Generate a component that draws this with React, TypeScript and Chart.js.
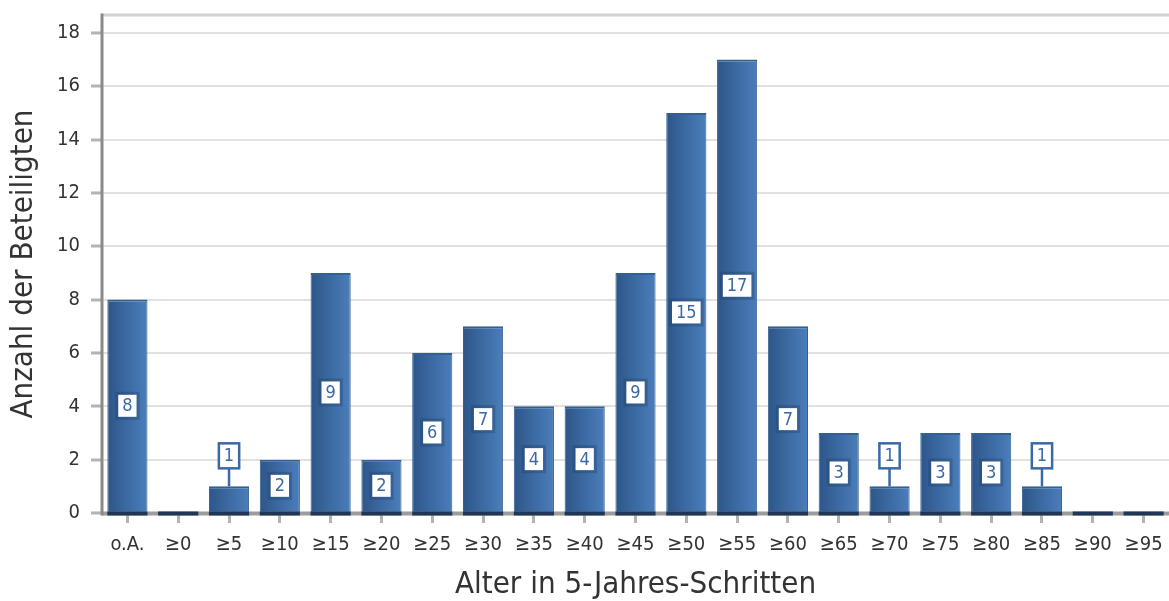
import React, { useEffect, useRef } from 'react';
import { Chart, registerables } from 'chart.js';

Chart.register(...registerables);

const CATEGORIES = ['o.A.', '≥0', '≥5', '≥10', '≥15', '≥20', '≥25', '≥30', '≥35', '≥40', '≥45', '≥50', '≥55', '≥60', '≥65', '≥70', '≥75', '≥80', '≥85', '≥90', '≥95'];
const COUNTS = [8, 0, 1, 2, 9, 2, 6, 7, 4, 4, 9, 15, 17, 7, 3, 1, 3, 3, 1, 0, 0];
const Y_TICKS = [0, 2, 4, 6, 8, 10, 12, 14, 16, 18];
const Y_MAX = 18.67;
const X_TITLE = 'Alter in 5-Jahres-Schritten';
const Y_TITLE = 'Anzahl der Beteiligten';

const FONT = '"DejaVu Sans Condensed", "DejaVu Sans", sans-serif';
const LABEL_BLUE = '#3b69a6';
const BAR_PCT = 0.79;

const decorPlugin = {
  id: 'decor',
  afterDatasetsDraw(chart: any) {
    const { ctx, chartArea, scales } = chart;
    const y = scales.y;
    const meta = chart.getDatasetMeta(0);
    const y0 = y.getPixelForValue(0);
    ctx.save();
    ctx.fillStyle = '#d2d2d2';
    ctx.fillRect(chartArea.left, chartArea.top - 1.5, chartArea.right - chartArea.left, 3);
    ctx.fillStyle = '#9c9c9c';
    ctx.fillRect(chartArea.left, y0 - 1.5, chartArea.right - chartArea.left, 4);
    meta.data.forEach((bar: any) => {
      const p = bar.getProps(['x', 'width'], true);
      ctx.fillStyle = '#1f3656';
      ctx.fillRect(p.x - p.width / 2, y0 - 1.5, p.width, 4);
    });
    ctx.fillStyle = '#8a8a8a';
    ctx.fillRect(chartArea.left - 1.5, chartArea.top - 1.5, 3, y0 - chartArea.top + 4);

    ctx.font = '18px ' + FONT;
    ctx.textAlign = 'center';
    ctx.textBaseline = 'middle';
    meta.data.forEach((bar: any, i: number) => {
      const v = COUNTS[i];
      if (!v) return;
      const p = bar.getProps(['x', 'y', 'base'], true);
      const text = String(v);
      const tw = ctx.measureText(text).width;
      const barH = p.base - p.y;
      if (barH < 32) {
        const w = Math.max(20, tw + 10);
        const h = 25;
        const bottom = p.y - 18;
        const top = bottom - h;
        ctx.strokeStyle = LABEL_BLUE;
        ctx.lineWidth = 2.5;
        ctx.beginPath();
        ctx.moveTo(p.x, bottom);
        ctx.lineTo(p.x, p.y);
        ctx.stroke();
        ctx.fillStyle = '#ffffff';
        ctx.fillRect(p.x - w / 2, top, w, h);
        ctx.strokeRect(p.x - w / 2, top, w, h);
        ctx.fillStyle = LABEL_BLUE;
        ctx.fillText(text, p.x, top + h / 2 + 1);
      } else {
        const cy = (p.y + p.base) / 2;
        const w = Math.max(18, tw + 8);
        const h = 22;
        ctx.fillStyle = 'rgba(28,55,95,0.3)';
        ctx.fillRect(p.x - w / 2 - 3, cy - h / 2 - 3, w + 6, h + 6);
        ctx.fillStyle = '#ffffff';
        ctx.fillRect(p.x - w / 2, cy - h / 2, w, h);
        ctx.fillStyle = LABEL_BLUE;
        ctx.fillText(text, p.x, cy + 1);
      }
    });
    ctx.restore();
  },
};

const zeroPadding = (s: any) => {
  s.paddingLeft = 0;
  s.paddingRight = 0;
  s.paddingTop = 0;
  s.paddingBottom = 0;
};

export default function App() {
  const ref = useRef<HTMLCanvasElement | null>(null);
  useEffect(() => {
    if (!ref.current) return;
    const chart = new Chart(ref.current, {
      type: 'bar',
      data: {
        labels: CATEGORIES,
        datasets: [
          {
            data: COUNTS,
            barPercentage: BAR_PCT,
            categoryPercentage: 1,
            backgroundColor: (c: any) => {
              const ch = c.chart;
              const xs = ch.scales && ch.scales.x;
              if (!xs || c.dataIndex === undefined) return '#3d6aa3';
              const cx = xs.getPixelForValue(c.dataIndex);
              const half = (xs.width / CATEGORIES.length) * BAR_PCT / 2;
              if (!isFinite(cx) || !isFinite(half) || half <= 0) return '#3d6aa3';
              const g = ch.ctx.createLinearGradient(cx - half, 0, cx + half, 0);
              g.addColorStop(0, '#2d5689');
              g.addColorStop(1, '#4b7ebb');
              return g;
            },
            borderColor: '#34608f',
            borderWidth: { top: 2, left: 1, right: 1, bottom: 0 },
            borderSkipped: false,
          },
        ],
      },
      options: {
        animation: false,
        responsive: true,
        maintainAspectRatio: false,
        layout: { padding: { top: 15, left: 0, right: 0, bottom: 0 } },
        plugins: { legend: { display: false }, tooltip: { enabled: false }, title: { display: false } },
        scales: {
          x: {
            grid: { display: true, drawOnChartArea: false, offset: false, tickLength: 10, tickWidth: 3, tickColor: '#b3b3b3' },
            border: { display: false },
            ticks: { font: { family: FONT, size: 20 }, color: '#333333', padding: 10, maxRotation: 0, autoSkip: false },
            title: { display: true, text: X_TITLE, font: { family: FONT, size: 31, lineHeight: 1.0 }, color: '#333333', padding: { top: 0, bottom: 1 } },
            afterFit: (s: any) => { s.height = 88; zeroPadding(s); },
          },
          y: {
            min: 0,
            max: Y_MAX,
            afterBuildTicks: (s: any) => { s.ticks = Y_TICKS.map((v) => ({ value: v })); },
            grid: { color: '#e1e1e1', lineWidth: 2, tickLength: 11, tickWidth: 3, tickColor: '#b3b3b3' },
            border: { display: false },
            ticks: { font: { family: FONT, size: 20 }, color: '#333333', padding: 11 },
            title: { display: true, text: Y_TITLE, font: { family: FONT, size: 31, lineHeight: 1.2 }, color: '#333333', padding: { top: 5, bottom: 0 } },
            afterFit: (s: any) => { s.width = 102; zeroPadding(s); },
          },
        },
      },
      plugins: [decorPlugin],
    });
    return () => chart.destroy();
  }, []);
  return (
    <div style={{ position: 'absolute', left: 0, top: 0, width: 1169, height: 601, background: '#ffffff' }}>
      <canvas ref={ref} />
    </div>
  );
}
